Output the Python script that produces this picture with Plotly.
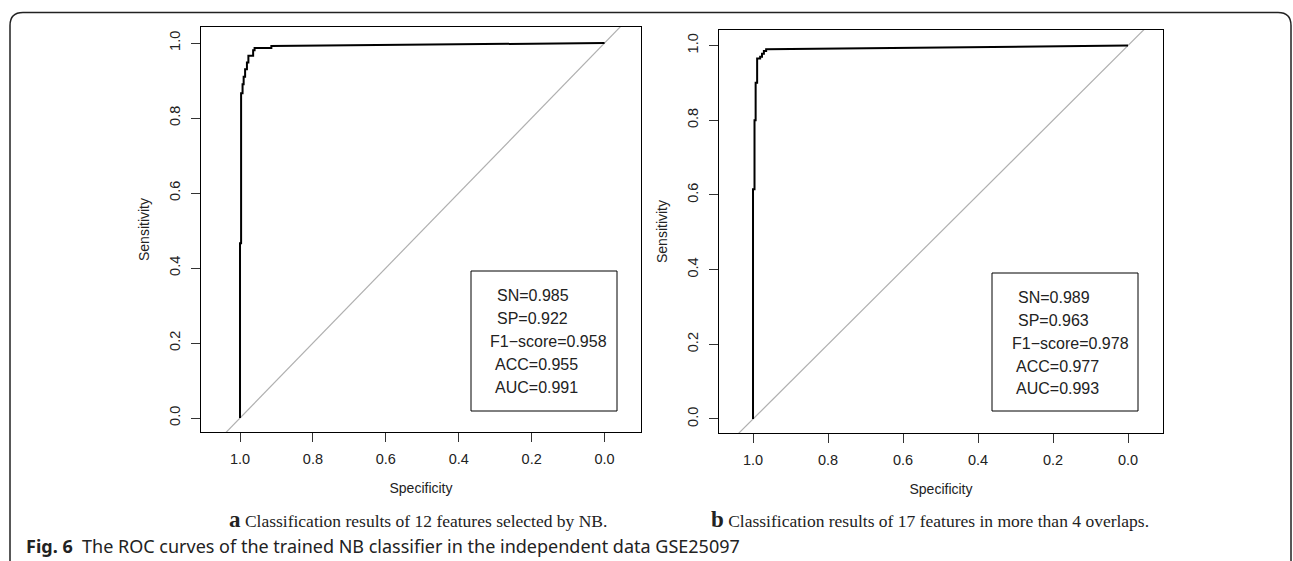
import plotly.graph_objects as go

W, H = 1293, 561

# ---------------- data ----------------
tick_vals = [1.0, 0.8, 0.6, 0.4, 0.2, 0.0]
tick_text = ["1.0", "0.8", "0.6", "0.4", "0.2", "0.0"]

# Panel a: ROC curve (specificity, sensitivity)
spec_a = [1.000, 1.000, 0.997, 0.997, 0.993, 0.993, 0.990, 0.990, 0.986, 0.986,
          0.981, 0.981, 0.977, 0.977, 0.964, 0.964, 0.960, 0.960, 0.914, 0.914, 0.000]
sens_a = [0.000, 0.466, 0.466, 0.866, 0.866, 0.890, 0.890, 0.910, 0.910, 0.930,
          0.930, 0.948, 0.948, 0.966, 0.966, 0.981, 0.981, 0.987, 0.987, 0.992, 1.000]

# Panel b: ROC curve
spec_b = [1.000, 1.000, 0.996, 0.996, 0.993, 0.993, 0.989, 0.989, 0.981, 0.981,
          0.976, 0.976, 0.971, 0.971, 0.965, 0.965, 0.000]
sens_b = [0.000, 0.615, 0.615, 0.800, 0.800, 0.900, 0.900, 0.965, 0.965, 0.970,
          0.970, 0.978, 0.978, 0.985, 0.985, 0.990, 1.000]

# chance diagonal (sensitivity = 1 - specificity), clipped by the axes
diag_spec = [1.3, -0.3]
diag_sens = [-0.3, 1.3]

metrics_a = ["SN=0.985", "SP=0.922", "F1\u2212score=0.958", "ACC=0.955", "AUC=0.991"]
metrics_b = ["SN=0.989", "SP=0.963", "F1\u2212score=0.978", "ACC=0.977", "AUC=0.993"]

caption_a = ("a", "Classification results of 12 features selected by NB.")
caption_b = ("b", "Classification results of 17 features in more than 4 overlaps.")
fig_label = "Fig. 6"
fig_caption = "The ROC curves of the trained NB classifier in the independent data GSE25097"

# ---------------- helpers ----------------
def fx(p):
    return p / W

def fy(p):
    return 1 - p / H

SANS = "Liberation Sans, Arial, sans-serif"
SERIF = "Liberation Serif, Times New Roman, serif"

fig = go.Figure()

for spec, sens, xa, ya in [(spec_a, sens_a, "x", "y"), (spec_b, sens_b, "x2", "y2")]:
    fig.add_trace(go.Scatter(x=diag_spec, y=diag_sens, mode="lines", xaxis=xa, yaxis=ya,
                             line=dict(color="#b0b0b0", width=1.2), hoverinfo="skip",
                             showlegend=False))
    fig.add_trace(go.Scatter(x=spec, y=sens, mode="lines", xaxis=xa, yaxis=ya,
                             line=dict(color="black", width=2), showlegend=False))

def xaxis_cfg(dom, rng):
    return dict(domain=dom, range=rng, tickvals=tick_vals, ticktext=tick_text,
                ticks="outside", ticklen=9, tickwidth=1, tickcolor="#333",
                showline=True, mirror=True, linecolor="black", linewidth=1,
                showgrid=False, zeroline=False,
                tickfont=dict(family=SANS, size=14.5, color="#222"),
                ticklabelstandoff=5,
                title=dict(text="Specificity", font=dict(family=SANS, size=14, color="#222"),
                           standoff=16))

def yaxis_cfg(dom, rng):
    return dict(domain=dom, range=rng, tickvals=tick_vals, ticktext=tick_text,
                ticks="outside", ticklen=9, tickwidth=1, tickcolor="#333",
                showline=True, mirror=True, linecolor="black", linewidth=1,
                showgrid=False, zeroline=False, tickangle=-90,
                tickfont=dict(family=SANS, size=14.5, color="#222"),
                ticklabelstandoff=5,
                title=dict(text="Sensitivity", font=dict(family=SANS, size=14, color="#222"),
                           standoff=14))

fig.update_layout(
    width=W, height=H,
    margin=dict(l=0, r=0, t=0, b=0),
    paper_bgcolor="white", plot_bgcolor="white",
    xaxis=dict(anchor="y", **xaxis_cfg([fx(201), fx(641)], [1.107, -0.100])),
    yaxis=dict(anchor="x", **yaxis_cfg([fy(432), fy(27)], [-0.0373, 1.0427])),
    xaxis2=dict(anchor="y2", **xaxis_cfg([fx(719), fx(1163)], [1.0907, -0.0933])),
    yaxis2=dict(anchor="x2", **yaxis_cfg([fy(433), fy(30)], [-0.0375, 1.0415])),
)

shapes = []
annotations = []

# metric boxes
for (x0, x1, y0, y1), lines, xs, ys in [
    ((471, 617, 271, 411), metrics_a, [495, 495, 488, 493, 493], [295, 318, 341, 364, 387]),
    ((992, 1138, 273, 411), metrics_b, [1016, 1016, 1010, 1014, 1014], [297, 320, 343, 366, 388]),
]:
    shapes.append(dict(type="rect", xref="paper", yref="paper",
                       x0=fx(x0), x1=fx(x1), y0=fy(y1), y1=fy(y0),
                       line=dict(color="black", width=1), fillcolor="rgba(0,0,0,0)"))
    for t, xx, yy in zip(lines, xs, ys):
        annotations.append(dict(text=t, xref="paper", yref="paper", x=fx(xx), y=fy(yy),
                                xanchor="left", yanchor="middle", showarrow=False,
                                font=dict(family=SANS, size=16, color="#222")))

# sub-captions
for (letter, text), cx in [(caption_a, 418), (caption_b, 930)]:
    annotations.append(dict(
        text=f"<b><span style='font-size:23px'>{letter}</span></b> {text}",
        xref="paper", yref="paper", x=fx(cx), y=fy(519), xanchor="center", yanchor="middle",
        showarrow=False, font=dict(family=SERIF, size=17.5, color="#222")))

# figure caption
annotations.append(dict(
    text=f"<b>{fig_label}</b>\u00a0\u00a0{fig_caption}",
    xref="paper", yref="paper", x=fx(24), y=fy(546), xanchor="left", yanchor="middle",
    showarrow=False, font=dict(family="Noto Sans, sans-serif", size=18, color="#222")))

# outer rounded frame (open at the bottom)
L, R, T, r = 10, 1291, 12.5, 13
path = (f"M {fx(L)},{fy(H)} L {fx(L)},{fy(T + r)} Q {fx(L)},{fy(T)} {fx(L + r)},{fy(T)} "
        f"L {fx(R - r)},{fy(T)} Q {fx(R)},{fy(T)} {fx(R)},{fy(T + r)} L {fx(R)},{fy(H)}")
shapes.append(dict(type="path", xref="paper", yref="paper", path=path,
                   line=dict(color="#222", width=1.5)))

fig.update_layout(shapes=shapes, annotations=annotations)

fig.write_html("out.html")
